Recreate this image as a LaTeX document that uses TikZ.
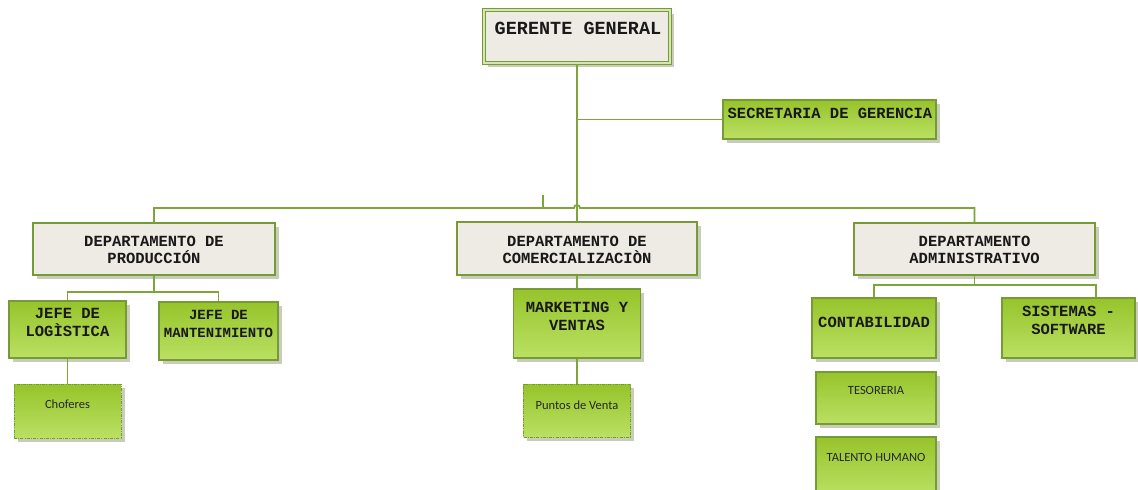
\documentclass[tikz,border=0pt]{standalone}
\usepackage{fontspec}
\setmonofont{Liberation Mono}
\newfontfamily\calib{Carlito}
\usetikzlibrary{shadows}

\definecolor{gtop}{HTML}{96C42B}
\definecolor{gbot}{HTML}{BBE063}
\definecolor{gline}{HTML}{769A36}
\definecolor{connc}{HTML}{7EA53B}
\definecolor{paper}{HTML}{EEEAE4}
\definecolor{shade}{HTML}{C8CDBA}
\definecolor{gap}{HTML}{D6E4B6}

\tikzset{
  base/.style={rectangle, draw=gline, line width=1.3pt, inner sep=0pt,
    drop shadow={shadow xshift=3.5pt, shadow yshift=-3.5pt, fill=shade, opacity=1}},
  greybox/.style={base, fill=paper},
  greenbox/.style={base, top color=gtop, bottom color=gbot},
  dashbox/.style={greenbox, line width=1pt, dash pattern=on 3pt off 1.2pt on 1pt off 1.2pt},
  cline/.style={draw=connc, line width=1.8pt},
  mono/.style={font=\ttfamily\bfseries\fontsize{15.5}{18}\selectfont, align=center, inner sep=0pt, text=black!90},
  deptxt/.style={mono, font=\ttfamily\bfseries\fontsize{15.5}{17}\selectfont},
  sans/.style={font=\calib\fontsize{12.5}{15}\selectfont, inner sep=0pt, text=black!85}
}

\begin{document}
\begin{tikzpicture}[x=1pt, y=-1pt]
\useasboundingbox (0,0) rectangle (1138,490);
\fill[white] (0,0) rectangle (1138,490);

% boxes
\node[greybox, double=gap, double distance=1.6pt, line width=1pt,
      minimum width=186, minimum height=53] (ger) at (577,36.5) {};
\node[greenbox, minimum width=213, minimum height=39] (sec) at (829.5,119.5) {};
\node[greybox, minimum width=242, minimum height=52] (prod) at (154,249) {};
\node[greybox, minimum width=240, minimum height=53] (com) at (577,248.5) {};
\node[greybox, minimum width=241, minimum height=52] (adm) at (974.5,249) {};
\node[greenbox, minimum width=117, minimum height=57] (log) at (67.5,329.5) {};
\node[greenbox, minimum width=119, minimum height=58] (man) at (218.5,331) {};
\node[dashbox, minimum width=107, minimum height=54] (cho) at (67.5,411) {};
\node[greenbox, minimum width=127, minimum height=69] (mkt) at (577,323.5) {};
\node[dashbox, minimum width=107, minimum height=53] (pv) at (577,410.5) {};
\node[greenbox, minimum width=124, minimum height=60] (cont) at (874,328) {};
\node[greenbox, minimum width=133, minimum height=60] (sis) at (1068.5,328) {};
\node[greenbox, minimum width=120, minimum height=52] (tes) at (876,398) {};
\node[greenbox, minimum width=120, minimum height=58] (tal) at (876,466) {};

% labels
\node[mono, font=\ttfamily\bfseries\fontsize{18.5}{21}\selectfont] (gert) at (578,28) {GERENTE GENERAL};
\node[mono] (sect) at (830,113) {SECRETARIA DE GERENCIA};
\node[deptxt] (prodt) at (154,250) {DEPARTAMENTO DE\\PRODUCCIÓN};
\node[deptxt] (comt) at (577,249.5) {DEPARTAMENTO DE\\COMERCIALIZACIÒN};
\node[deptxt] (admt) at (974.5,250) {DEPARTAMENTO\\ADMINISTRATIVO};
\node[mono] (logt) at (67.5,322.5) {JEFE DE\\LOGÌSTICA};
\node[mono, font=\ttfamily\bfseries\fontsize{14}{18}\selectfont] (mant) at (218.5,324) {JEFE DE\\MANTENIMIENTO};
\node[sans] (chot) at (67.5,404) {Choferes};
\node[mono] (mktt) at (577,316) {MARKETING Y\\VENTAS};
\node[sans] (pvt) at (577,405) {Puntos de Venta};
\node[mono] (contt) at (874,322) {CONTABILIDAD};
\node[mono] (sist) at (1068.5,320) {SISTEMAS -\\SOFTWARE};
\node[sans] (test) at (876,390) {TESORERIA};
\node[sans] (talt) at (876,457) {TALENTO HUMANO};

% connectors
\coordinate (stub) at (543,195);
\coordinate (busL) at (543,208);
\coordinate (pj) at (154,292);
\coordinate (aj) at (974.5,285);

\draw[cline] (ger.south) -- (com.north);
\draw[cline] (sec.west) -- (sec.west -| ger.south);
\draw[cline] (prod.north) |- (574,208) arc[start angle=180, end angle=360, radius=3] -| (adm.north);
\draw[cline] (stub) -- (busL);
\draw[cline] (prod.south) -- (pj);
\draw[cline] (log.north) |- (pj) -| (man.north);
\draw[cline] (log.south) -- (cho.north);
\draw[cline] (com.south) -- (mkt.north);
\draw[cline] (mkt.south) -- (pv.north);
\draw[cline] (adm.south) -- (aj);
\draw[cline] (cont.north) |- (aj) -| ([xshift=-40pt]sis.north east);
\end{tikzpicture}
\end{document}
